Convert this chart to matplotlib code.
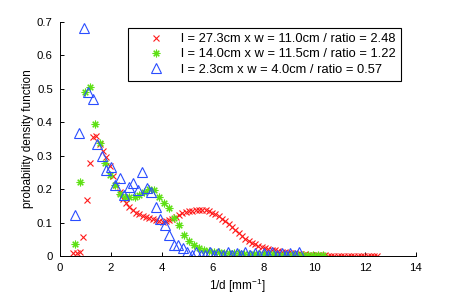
import matplotlib
matplotlib.use("Agg")
import matplotlib.pyplot as plt

# red series: l = 27.3cm x w = 11.0cm
red_x = [0.53, 0.66, 0.79, 0.92, 1.05, 1.18, 1.31, 1.44, 1.57, 1.70,
         1.83, 1.96, 2.09, 2.22, 2.35, 2.48, 2.61, 2.74, 2.87, 3.00,
         3.13, 3.26, 3.39, 3.52, 3.65, 3.78, 3.91, 4.04, 4.17, 4.30,
         4.43, 4.56, 4.69, 4.82, 4.95, 5.08, 5.21, 5.34, 5.47, 5.60,
         5.73, 5.86, 5.99, 6.12, 6.25, 6.38, 6.51, 6.64, 6.77, 6.90,
         7.03, 7.16, 7.29, 7.42, 7.55, 7.68, 7.81, 7.94, 8.07, 8.20,
         8.33, 8.46, 8.59, 8.72, 8.85, 8.98, 9.11, 9.24, 9.37, 9.50,
         9.63, 9.76, 9.89, 10.02, 10.15, 10.28, 10.41, 10.54, 10.67, 10.80,
         10.93, 11.06, 11.19, 11.32, 11.45, 11.58, 11.71, 11.84, 11.97, 12.10,
         12.23, 12.36, 12.49]
red_y = [0.010, 0.010, 0.012, 0.057, 0.168, 0.278, 0.355, 0.360, 0.335, 0.315,
         0.295, 0.270, 0.240, 0.213, 0.190, 0.170, 0.158, 0.146, 0.137, 0.130,
         0.125, 0.121, 0.118, 0.115, 0.111, 0.107, 0.104, 0.103, 0.104, 0.107,
         0.112, 0.118, 0.124, 0.128, 0.131, 0.134, 0.136, 0.137, 0.138, 0.138,
         0.137, 0.134, 0.130, 0.125, 0.119, 0.112, 0.105, 0.096, 0.088, 0.079,
         0.070, 0.061, 0.052, 0.045, 0.039, 0.035, 0.031, 0.028, 0.025, 0.022,
         0.019, 0.017, 0.015, 0.013, 0.012, 0.010, 0.009, 0.008, 0.007, 0.006,
         0.005, 0.004, 0.003, 0.003, 0.002, 0.002, 0.002, 0.001, 0.001, 0.001,
         0.001, 0.001, 0.001, 0.001, 0.000, 0.000, 0.000, 0.000, 0.000, 0.000,
         0.000, 0.000, 0.000]

# green series: l = 14.0cm x w = 11.5cm
green_x = [0.60, 0.79, 0.99, 1.18, 1.38, 1.57, 1.77, 1.96, 2.16, 2.35,
           2.55, 2.74, 2.94, 3.13, 3.33, 3.52, 3.72, 3.91, 4.11, 4.30,
           4.50, 4.69, 4.89, 5.08, 5.28, 5.47, 5.67, 5.86, 6.06, 6.25,
           6.45, 6.64, 6.84, 7.03, 7.23, 7.42, 7.62, 7.81, 8.01, 8.20,
           8.40, 8.59, 8.79, 8.98, 9.18, 9.37, 9.57, 9.76, 9.96, 10.15,
           10.35]
green_y = [0.035, 0.220, 0.490, 0.505, 0.395, 0.338, 0.278, 0.242, 0.212, 0.185,
           0.178, 0.176, 0.178, 0.183, 0.192, 0.200, 0.198, 0.178, 0.160, 0.143,
           0.113, 0.093, 0.063, 0.045, 0.033, 0.025, 0.018, 0.014, 0.012, 0.011,
           0.010, 0.009, 0.008, 0.008, 0.007, 0.007, 0.006, 0.006, 0.005, 0.005,
           0.005, 0.004, 0.004, 0.004, 0.003, 0.003, 0.003, 0.003, 0.002, 0.002,
           0.002]

# blue series: l = 2.3cm x w = 4.0cm
blue_x = [0.59, 0.77, 0.94, 1.12, 1.30, 1.47, 1.65, 1.83, 2.00, 2.18,
          2.36, 2.53, 2.71, 2.89, 3.06, 3.24, 3.42, 3.59, 3.77, 3.95,
          4.12, 4.30, 4.48, 4.65, 4.83, 5.01, 5.18, 5.36, 5.54, 5.71,
          5.89, 6.07, 6.24, 6.42, 6.60, 6.77, 6.95, 7.13, 7.30, 7.48,
          7.66, 7.83, 8.01, 8.19, 8.36, 8.54, 8.72, 8.89, 9.07, 9.25,
          9.42]
blue_y = [0.123, 0.367, 0.682, 0.490, 0.470, 0.335, 0.300, 0.257, 0.267, 0.213,
          0.233, 0.183, 0.207, 0.218, 0.198, 0.252, 0.203, 0.190, 0.148, 0.110,
          0.093, 0.063, 0.033, 0.033, 0.023, 0.013, 0.003, 0.012, 0.002, 0.003,
          0.012, 0.003, 0.010, 0.002, 0.011, 0.003, 0.010, 0.002, 0.011, 0.003,
          0.010, 0.002, 0.010, 0.003, 0.011, 0.002, 0.010, 0.003, 0.010, 0.003,
          0.012]

labels = ["l = 27.3cm x w = 11.0cm / ratio = 2.48",
          "l = 14.0cm x w = 11.5cm / ratio = 1.22",
          "l = 2.3cm x w = 4.0cm / ratio = 0.57"]

_RED = "#ff1a1a"
_GREEN = "#5ee014"
_BLUE = "#2a4dff"

plt.rcParams["font.family"] = ["Liberation Sans", "DejaVu Sans"]
plt.rcParams["mathtext.fontset"] = "custom"
plt.rcParams["mathtext.rm"] = "Liberation Sans"
plt.rcParams["mathtext.it"] = "Liberation Sans"

fig = plt.figure(figsize=(4.6, 2.96), dpi=100)
ax = fig.add_axes([0.130, 0.135, 0.774, 0.791])

ax.plot(red_x, red_y, linestyle="none", marker="x", markersize=4.5,
        markeredgewidth=0.8, color=_RED, label=labels[0])
ax.plot(green_x, green_y, linestyle="none", marker=(8, 2, 0), markersize=5.5,
        markeredgewidth=0.8, color=_GREEN, label=labels[1])
ax.plot(blue_x, blue_y, linestyle="none", marker="^", markersize=7,
        markeredgewidth=0.8, markerfacecolor="none", color=_BLUE, label=labels[2])

ax.set_xlim(0, 14)
ax.set_ylim(0, 0.7)
ax.set_xticks([0, 2, 4, 6, 8, 10, 12, 14])
ax.set_yticks([0, 0.1, 0.2, 0.3, 0.4, 0.5, 0.6, 0.7])
ax.set_yticklabels(["0", "0.1", "0.2", "0.3", "0.4", "0.5", "0.6", "0.7"])
ax.tick_params(direction="in", length=3, width=0.7, labelsize=8.2, pad=5)
for side in ["top", "right"]:
    ax.spines[side].set_visible(False)
for side in ["left", "bottom"]:
    ax.spines[side].set_linewidth(0.7)
ax.set_xlabel(r"1/d [mm$^{-1}$]", fontsize=8.5, labelpad=3)
ax.set_ylabel("probability density function", fontsize=8.5, labelpad=2)

leg = ax.legend(loc="upper left", bbox_to_anchor=(128 / 460, 1 - 28 / 296),
                bbox_transform=fig.transFigure, borderaxespad=0,
                fontsize=9.25, fancybox=False, framealpha=1, edgecolor="black",
                handlelength=3.6, handletextpad=0.1, borderpad=0.4,
                labelspacing=0.25)
leg.get_frame().set_linewidth(0.8)

fig.savefig("out.png", dpi=100)
